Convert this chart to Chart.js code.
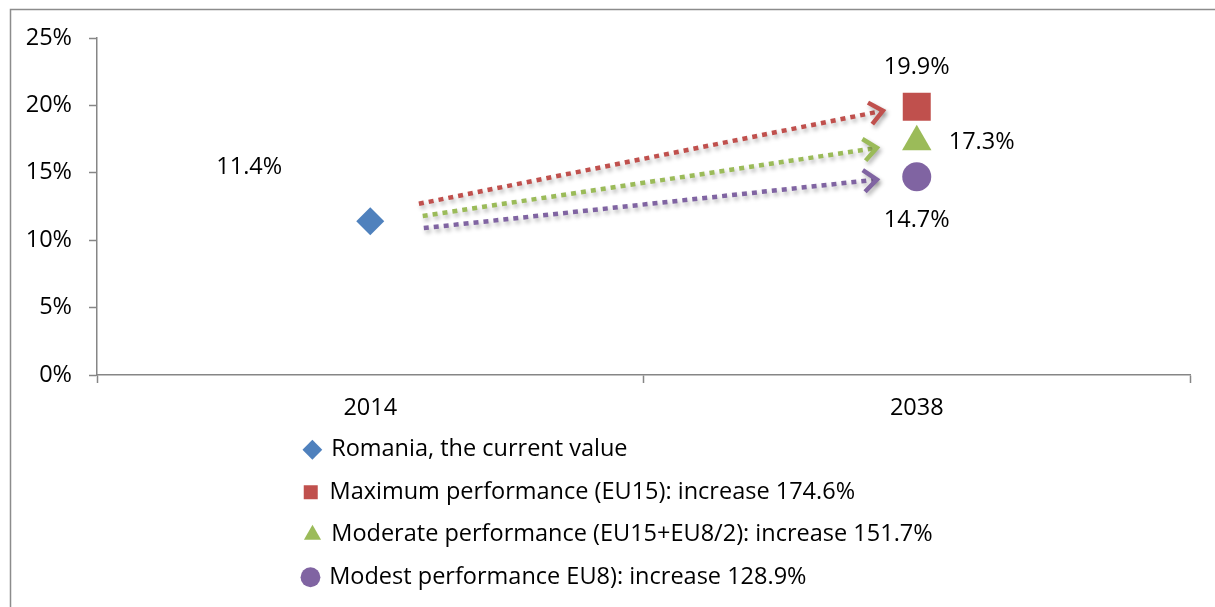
<!DOCTYPE html>
<html lang="en">
<head>
  <meta charset="UTF-8" />
  <title>Romania, 2014 vs 2038</title>
  <script src="https://cdn.jsdelivr.net/npm/chart.js"></script>
  <style>
    body {
      margin: 0;
      background: #fff;
    }
    canvas {
      display: block;
    }
  </style>
</head>
<body>

  <canvas id="chart" width="1215" height="607"></canvas>

  <script>
    // Data
    const years = ['2014', '2038'];
    const seriesNames = [
      'Romania, the current value',
      'Maximum performance (EU15): increase 174.6%',
      'Moderate performance (EU15+EU8/2): increase 151.7%',
      'Modest performance EU8): increase 128.9%'
    ];
    const seriesYear = [0, 1, 1, 1];            // index into years
    const seriesValues = [11.4, 19.9, 17.3, 14.7];
    const yTicks = [0, 5, 10, 15, 20, 25];

    // dotted arrows, in data units (x: 0 = 2014, 1 = 2038; y: %)
    const arrowStartX = [0.089, 0.096, 0.098];
    const arrowStartY = [12.7, 11.8, 10.9];
    const arrowEndX = [0.938, 0.927, 0.927];
    const arrowEndY = [19.6, 16.85, 14.5];

    // Styles
    const colors = ['#4F81BD', '#C0504D', '#9BBB59', '#8064A2'];
    const styles = ['rectRot', 'rect', 'triangle', 'circle'];
    const radii = [14, 19.8, 17, 14.5];
    const labelPlace = [
      { dx: -121, dy: -54, align: 'center' },
      { dx: 0, dy: -39, align: 'center' },
      { dx: 32, dy: 1, align: 'left' },
      { dx: 0, dy: 43, align: 'center' }
    ];
    const axisGrey = '#868686';
    const FONT = "'Open Sans', sans-serif";
    const FS = 23.5;

    Chart.defaults.font.family = FONT;
    Chart.defaults.font.size = FS;
    Chart.defaults.color = '#000';

    const pointSets = seriesNames.map((name, i) => ({
      label: name,
      data: [{ x: seriesYear[i], y: seriesValues[i] }],
      pointStyle: styles[i],
      pointRadius: radii[i],
      backgroundColor: colors[i],
      borderColor: colors[i],
      borderWidth: 0,
      labelPlace: labelPlace[i]
    }));

    const arrowSets = arrowStartX.map((x0, i) => ({
      arrow: true,
      data: [{ x: x0, y: arrowStartY[i] }, { x: arrowEndX[i], y: arrowEndY[i] }],
      showLine: true,
      borderColor: colors[i + 1],
      borderWidth: 4.5,
      borderDash: [5, 5],
      borderCapStyle: 'butt',
      pointRadius: 0,
      fill: false
    }));

    function setShadow(ctx) {
      ctx.shadowColor = 'rgba(0,0,0,0.3)';
      ctx.shadowBlur = 4;
      ctx.shadowOffsetX = 2;
      ctx.shadowOffsetY = 3;
    }

    // outer frame of the figure
    const frame = {
      id: 'frame',
      beforeDraw(chart) {
        const ctx = chart.ctx;
        ctx.save();
        ctx.fillStyle = '#fff';
        ctx.fillRect(0, 0, chart.width, chart.height);
        ctx.strokeStyle = '#8c8c8c';
        ctx.lineWidth = 1.5;
        ctx.strokeRect(10.5, 9.5, chart.width + 20, chart.height + 20);
        ctx.restore();
      }
    };

    // shadows + open arrow heads on the dotted lines
    const arrows = {
      id: 'arrows',
      beforeDatasetDraw(chart, args) {
        if (!chart.data.datasets[args.index].arrow) return;
        chart.ctx.save();
        setShadow(chart.ctx);
      },
      afterDatasetDraw(chart, args) {
        const ds = chart.data.datasets[args.index];
        if (!ds.arrow) return;
        const ctx = chart.ctx;
        ctx.restore();
        const pts = args.meta.data;
        const a = pts[0], b = pts[pts.length - 1];
        const ang = Math.atan2(b.y - a.y, b.x - a.x);
        const len = 17, spread = 0.7;
        ctx.save();
        setShadow(ctx);
        ctx.strokeStyle = ds.borderColor;
        ctx.lineWidth = 4.5;
        ctx.lineJoin = 'miter';
        ctx.beginPath();
        ctx.moveTo(b.x - len * Math.cos(ang - spread), b.y - len * Math.sin(ang - spread));
        ctx.lineTo(b.x, b.y);
        ctx.lineTo(b.x - len * Math.cos(ang + spread), b.y - len * Math.sin(ang + spread));
        ctx.stroke();
        ctx.restore();
      }
    };

    // value labels next to the markers
    const valueLabels = {
      id: 'valueLabels',
      afterDatasetsDraw(chart) {
        const ctx = chart.ctx;
        ctx.save();
        ctx.font = FS + 'px ' + FONT;
        ctx.fillStyle = '#000';
        ctx.textBaseline = 'middle';
        chart.data.datasets.forEach((ds, i) => {
          if (!ds.labelPlace) return;
          const pt = chart.getDatasetMeta(i).data[0];
          ctx.textAlign = ds.labelPlace.align;
          ctx.fillText(ds.data[0].y.toFixed(1) + '%', pt.x + ds.labelPlace.dx, pt.y + ds.labelPlace.dy);
        });
        ctx.restore();
      }
    };

    new Chart(document.getElementById('chart'), {
      type: 'scatter',
      data: { datasets: [...pointSets, ...arrowSets] },
      plugins: [frame, arrows, valueLabels],
      options: {
        responsive: false,
        animation: false,
        layout: { padding: { top: 38, left: 0, right: 25, bottom: 8 } },
        scales: {
          x: {
            type: 'linear',
            min: -0.5,
            max: 1.5,
            afterFit: s => { s.height = 44; },
            border: { color: axisGrey, width: 1.5 },
            grid: {
              drawOnChartArea: false,
              tickLength: 8,
              tickWidth: 1.5,
              tickColor: c => Number.isInteger(c.tick.value) ? 'rgba(0,0,0,0)' : axisGrey
            },
            ticks: {
              stepSize: 0.5,
              autoSkip: false,
              maxRotation: 0,
              padding: 14,
              font: { lineHeight: 1 },
              callback: v => Number.isInteger(v) ? years[v] : ''
            }
          },
          y: {
            min: yTicks[0],
            max: yTicks[yTicks.length - 1],
            afterFit: s => { s.width = 97; },
            border: { color: axisGrey, width: 1.5 },
            grid: { drawOnChartArea: false, tickLength: 8, tickWidth: 1.5, tickColor: axisGrey },
            ticks: {
              stepSize: yTicks[1] - yTicks[0],
              padding: 17,
              callback: v => v + '%'
            }
          }
        },
        plugins: {
          tooltip: { enabled: false },
          legend: {
            position: 'bottom',
            fullSize: false,
            labels: {
              usePointStyle: true,
              boxWidth: 14,
              boxHeight: 14,
              padding: 19,
              generateLabels(chart) {
                const items = Chart.defaults.plugins.legend.labels.generateLabels(chart)
                  .filter(it => !chart.data.datasets[it.datasetIndex].arrow);
                // pad every entry to the same width so each sits on its own row, left aligned
                const ctx = chart.ctx;
                ctx.save();
                ctx.font = FS + 'px ' + FONT;
                const target = Math.max(652, ...items.map(it => ctx.measureText(it.text).width));
                items.forEach(it => {
                  while (ctx.measureText(it.text + ' ').width <= target + 3) it.text += ' ';
                });
                ctx.restore();
                return items;
              }
            }
          }
        }
      }
    });
  </script>
</body>
</html>
